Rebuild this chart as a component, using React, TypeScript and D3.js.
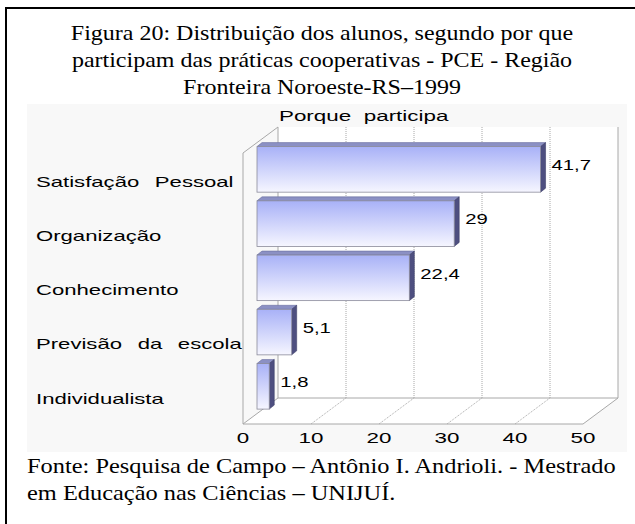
import React from 'react';
import * as d3 from 'd3';

const categories = ['Satisfação Pessoal', 'Organização', 'Conhecimento', 'Previsão da escola', 'Individualista'];
const values = [41.7, 29, 22.4, 5.1, 1.8];
const valueLabels = ['41,7', '29', '22,4', '5,1', '1,8'];
const xTicks = [0, 10, 20, 30, 40, 50];
const titleLines = [
  'Figura 20: Distribuição dos alunos, segundo por que',
  'participam das práticas cooperativas - PCE - Região',
  'Fronteira Noroeste-RS–1999',
];
const footerLines = [
  'Fonte: Pesquisa de Campo – Antônio I. Andrioli. - Mestrado',
  'em Educação nas Ciências – UNIJUÍ.',
];
const chartTitle = 'Porque participa';

const W = 635;
const H = 524;
// 3D box geometry
const X0 = 243;
const YBOT = 424;
const YTOP = 153;
const DX = 35;
const DY = -26;
const BAR_F = 0.4;
const BAR_DX = 5;
const BAR_DY = -4;
const SANS = 'Liberation Sans, Arial, sans-serif';
const SERIF = 'Liberation Serif, Times New Roman, serif';

const x = d3.scaleLinear().domain([0, 50]).range([X0, X0 + 340]);
const y = d3.scaleBand<string>().domain(categories).range([157, 419.5]).paddingInner(0.16).paddingOuter(0);

const P = (px: number, py: number, f: number): [number, number] => [px + DX * f, py + DY * f];
const pts = (a: [number, number][]) => a.map((p) => p.join(',')).join(' ');

function SText(props: {
  x: number; y: number; s?: number; size: number; anchor?: string; children: string; ws?: number; family?: string; central?: boolean;
}) {
  const { x: tx, y: ty, s = 1.45, size, anchor = 'start', children, ws = 0, family = SANS, central = true } = props;
  return (
    <text
      transform={`translate(${tx},${ty}) scale(${s},1)`}
      fontFamily={family}
      fontSize={size}
      textAnchor={anchor}
      dominantBaseline={central ? 'central' : 'auto'}
      wordSpacing={ws}
      fill="#000"
      style={{ whiteSpace: 'pre' }}
    >
      {children}
    </text>
  );
}

export default function App() {
  const grid = '#a8a8a8';
  const bw = y.bandwidth();
  return (
    <svg width={W} height={H} style={{ position: 'absolute', left: 0, top: 0, background: '#fff' }}>
      <defs>
        <linearGradient id="barFront" x1="0" y1="0" x2="0" y2="1">
          <stop offset="0%" stopColor="#a8b1f7" />
          <stop offset="100%" stopColor="#f6f6ff" />
        </linearGradient>
      </defs>
      <rect x={0} y={0} width={W} height={H} fill="#fff" />
      <rect x={27} y={104} width={600} height={348} fill="#f8f8f8" />

      {/* title */}
      {titleLines.map((t, i) => (
        <SText key={i} x={322} y={40 + i * 27} size={20} s={1.2} anchor="middle" family={SERIF} central={false}>
          {t}
        </SText>
      ))}

      {/* chart title */}
      <SText x={279} y={116} size={14} s={1.6} ws={4}>{chartTitle}</SText>

      {/* back wall */}
      <rect x={X0 + DX} y={YTOP + DY} width={340} height={YBOT - YTOP} fill="#fff" />
      {/* floor */}
      <polygon points={pts([P(x(0), YBOT, 0), P(x(50), YBOT, 0), P(x(50), YBOT, 1), P(x(0), YBOT, 1)])} fill="#fff" />
      {/* back gridlines */}
      {xTicks.slice(1, -1).map((t) => {
        const [bx, by] = P(x(t), YBOT, 1);
        return <line key={'g' + t} x1={bx} x2={bx} y1={by} y2={YTOP + DY} stroke={grid} strokeDasharray="1,1" />;
      })}
      {/* floor gridlines */}
      {xTicks.slice(1, -1).map((t) => {
        const a = P(x(t), YBOT, 0);
        const b = P(x(t), YBOT, 1);
        return <line key={'f' + t} x1={a[0]} y1={a[1]} x2={b[0]} y2={b[1]} stroke={grid} strokeDasharray="1,1" />;
      })}
      {/* box edges */}
      <g stroke={grid} fill="none" strokeWidth={1}>
        <line x1={X0} y1={YTOP} x2={X0} y2={YBOT} />
        <line x1={X0} y1={YTOP} x2={X0 + DX} y2={YTOP + DY} />
        <line x1={X0 + DX} y1={YTOP + DY} x2={X0 + DX} y2={YBOT + DY} />
        <line x1={X0 + DX + 340} y1={YTOP + DY} x2={X0 + DX + 340} y2={YBOT + DY} />
        <line x1={X0} y1={YBOT} x2={X0 + DX} y2={YBOT + DY} />
        <line x1={X0 + DX} y1={YBOT + DY} x2={X0 + DX + 340} y2={YBOT + DY} />
        <line x1={X0} y1={YBOT} x2={X0 + 340} y2={YBOT} />
        <line x1={X0 + 340} y1={YBOT} x2={X0 + 340 + DX} y2={YBOT + DY} />
      </g>

      {/* bars */}
      {categories.map((c, i) => {
        const [fx0, fy0] = P(x(0), y(c)!, BAR_F);
        const [fx1] = P(x(values[i]), y(c)!, BAR_F);
        const fy1 = fy0 + bw;
        return (
          <g key={c}>
            <polygon
              points={pts([[fx0, fy0], [fx1, fy0], [fx1 + BAR_DX, fy0 + BAR_DY], [fx0 + BAR_DX, fy0 + BAR_DY]])}
              fill="#8b90c4"
              stroke="#6a6ea0"
              strokeWidth={0.6}
            />
            <polygon
              points={pts([[fx1, fy0], [fx1 + BAR_DX, fy0 + BAR_DY], [fx1 + BAR_DX, fy1 + BAR_DY], [fx1, fy1]])}
              fill="#4e4f80"
              stroke="#3e3f68"
              strokeWidth={0.6}
            />
            <rect x={fx0} y={fy0} width={fx1 - fx0} height={bw} fill="url(#barFront)" stroke="#8a8a9a" strokeWidth={0.8} />
            <SText x={fx1 + BAR_DX + 6} y={fy0 + bw / 2 - 4} size={14}>{valueLabels[i]}</SText>
          </g>
        );
      })}

      {/* category labels */}
      {categories.map((c) => (
        <SText key={'l' + c} x={36} y={y(c)! + bw / 2 + 2} size={14} s={1.58} ws={6}>{c}</SText>
      ))}

      {/* x tick labels */}
      {xTicks.map((t) => (
        <SText key={'t' + t} x={x(t)} y={438} size={14} s={1.6} anchor="middle">{String(t)}</SText>
      ))}

      {/* footer */}
      {footerLines.map((t, i) => (
        <SText key={'ft' + i} x={27} y={473 + i * 27} size={20} s={1.22} family={SERIF} central={false}>
          {t}
        </SText>
      ))}

      {/* outer border */}
      <rect x={6} y={8} width={W + 10} height={H + 10} fill="none" stroke="#000" strokeWidth={2} />
    </svg>
  );
}
